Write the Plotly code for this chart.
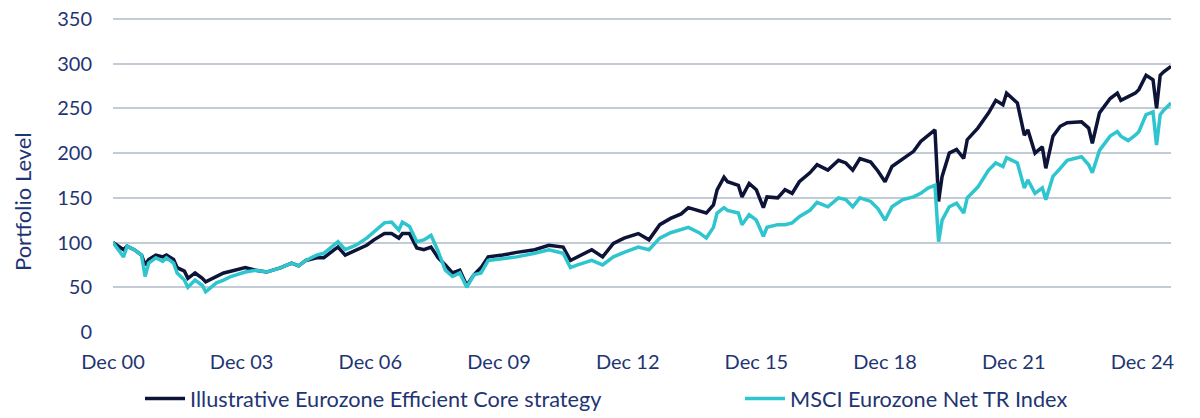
import pandas as pd
import plotly.graph_objects as go

# month-end readings taken off the reference chart
dates = [
    "2000-12", "2001-03", "2001-04", "2001-06", "2001-08", "2001-09", "2001-10", "2001-12",
    "2002-02", "2002-03", "2002-05", "2002-06", "2002-08", "2002-09", "2002-11",
    "2003-01", "2003-02", "2003-05", "2003-07", "2003-09",
    "2004-01", "2004-04", "2004-07", "2004-11",
    "2005-02", "2005-04", "2005-06", "2005-09", "2005-11",
    "2006-02", "2006-03", "2006-05", "2006-08", "2006-11",
    "2007-01", "2007-04", "2007-06", "2007-08", "2007-09", "2007-11",
    "2008-01", "2008-03", "2008-05", "2008-07", "2008-09", "2008-11",
    "2009-01", "2009-03", "2009-05", "2009-07", "2009-09",
    "2010-01", "2010-05", "2010-10",
    "2011-02", "2011-06", "2011-08", "2011-10",
    "2012-02", "2012-05", "2012-08", "2012-11",
    "2013-03", "2013-06", "2013-09", "2013-12",
    "2014-03", "2014-05", "2014-08", "2014-10", "2014-12",
    "2015-01", "2015-03", "2015-04", "2015-07", "2015-08", "2015-10", "2015-12",
    "2016-02", "2016-03", "2016-06", "2016-08", "2016-10", "2016-12",
    "2017-03", "2017-05", "2017-08", "2017-11",
    "2018-01", "2018-03", "2018-05", "2018-08", "2018-10", "2018-12",
    "2019-02", "2019-05", "2019-08", "2019-10", "2019-12",
    "2020-02", "2020-03", "2020-04", "2020-06", "2020-08", "2020-10", "2020-11",
    "2021-02", "2021-05", "2021-07", "2021-09", "2021-10",
    "2022-01", "2022-03", "2022-04", "2022-06", "2022-08", "2022-09", "2022-11",
    "2023-01", "2023-03", "2023-07", "2023-09", "2023-10", "2023-12",
    "2024-03", "2024-05", "2024-06", "2024-08", "2024-10", "2024-11",
    "2025-01", "2025-03", "2025-04", "2025-05", "2025-06", "2025-08",
]

strategy = [
    100, 92, 96, 92, 86, 75, 81, 86,
    84, 86, 81, 72, 68, 60, 66,
    60, 56, 62, 66, 68,
    72, 69, 67, 72,
    77, 74, 80, 83, 83,
    92, 95, 86, 92, 97,
    103, 110, 110, 105, 110, 110,
    94, 92, 95, 83, 75, 66,
    69, 52, 64, 72, 84,
    86, 89, 92,
    97, 95, 80, 84,
    92, 84, 99, 105,
    110, 103, 120, 127,
    132, 139, 136, 133, 142,
    159, 173, 168, 164, 151, 166, 159,
    139, 151, 150, 159, 155, 168,
    178, 187, 181, 192,
    189, 181, 194, 190, 180, 168,
    185, 194, 202, 213, 219,
    226, 146, 174, 200, 204, 194, 215,
    228, 245, 259, 254, 267,
    256, 220, 226, 200, 207, 183, 219,
    230, 234, 235, 228, 211, 245,
    261, 267, 259, 263, 267, 271,
    287, 282, 250, 287, 291, 297,
]

msci = [
    100, 84, 96, 92, 86, 62, 77, 83,
    79, 83, 77, 66, 58, 50, 58,
    52, 45, 55, 58, 62,
    67, 69, 67, 72,
    77, 74, 80, 86, 88,
    97, 101, 92, 97, 105,
    112, 122, 123, 114, 123, 118,
    101, 103, 108, 90, 69, 62,
    66, 50, 64, 66, 80,
    82, 84, 88,
    92, 88, 72, 75,
    80, 75, 84, 89,
    95, 92, 105, 111,
    114, 117, 111, 105, 117,
    133, 139, 136, 133, 120, 131, 125,
    107, 117, 120, 120, 122, 129,
    136, 145, 140, 150,
    148, 140, 150, 146, 138, 125,
    140, 148, 151, 155, 161,
    164, 101, 125, 140, 144, 133, 150,
    162, 181, 189, 185, 195,
    189, 161, 170, 155, 161, 148, 174,
    183, 192, 196, 187, 178, 203,
    219, 224, 219, 214, 220, 224,
    243, 246, 209, 243, 248, 256,
]

y_ticks = [0, 50, 100, 150, 200, 250, 300, 350]
tick_years = [2000, 2003, 2006, 2009, 2012, 2015, 2018, 2021, 2024]
tick_text = ["Dec %02d" % (y % 100) for y in tick_years]

x = pd.to_datetime(dates) + pd.offsets.MonthEnd(0)
tick_vals = [pd.Timestamp(y, 12, 31) for y in tick_years]

navy = "#0d1438"
cyan = "#2ec5cf"
text_col = "#1f3573"
font = "Lato"

fig = go.Figure()
fig.add_trace(go.Scatter(x=x, y=strategy, mode="lines", name="Illustrative Eurozone Efficient Core strategy",
                         line=dict(color=navy, width=3.5), legend="legend"))
fig.add_trace(go.Scatter(x=x, y=msci, mode="lines", name="MSCI Eurozone Net TR Index",
                         line=dict(color=cyan, width=3.5), legend="legend2"))

# plot area is 322px high for 0..360, so 313px per 0..350
leg = dict(orientation="h", xanchor="left", y=-67 / 322, yanchor="middle",
           font=dict(size=21.7, color=text_col, family=font), itemwidth=40,
           bgcolor="rgba(0,0,0,0)")

fig.update_layout(
    width=1200, height=418,
    margin=dict(l=113, r=29, t=10, b=86, autoexpand=False),
    paper_bgcolor="white", plot_bgcolor="white",
    font=dict(family=font, size=20, color=text_col),
    showlegend=True,
    legend=dict(leg, x=27 / 1058),
    legend2=dict(leg, x=627 / 1058),
)

fig.update_xaxes(
    range=[pd.Timestamp(2000, 12, 31), pd.Timestamp(2025, 8, 31)],
    tickvals=tick_vals, ticktext=tick_text,
    showgrid=False, zeroline=False, showline=False,
    tickfont=dict(size=20, color=text_col), ticks="", ticklabelstandoff=16,
)
fig.update_yaxes(
    range=[0, 360], tickvals=y_ticks,
    showgrid=True, gridcolor="#c3cbd6", gridwidth=2,
    zeroline=False, showline=False, ticklabeloverflow="allow",
    tickfont=dict(size=20, color=text_col), ticklabelstandoff=20,
)

fig.add_annotation(text="Portfolio Level", textangle=-90, xref="paper", yref="paper",
                   x=(22 - 113) / 1058, y=(332 - 202) / 322, xanchor="center", yanchor="middle",
                   showarrow=False, font=dict(size=22, color=text_col, family=font))

# drop the default 8px page margin so the figure sits at the window's corner
fig.write_html("out.html", config={"displayModeBar": False},
               post_script="document.body.style.margin='0';")
